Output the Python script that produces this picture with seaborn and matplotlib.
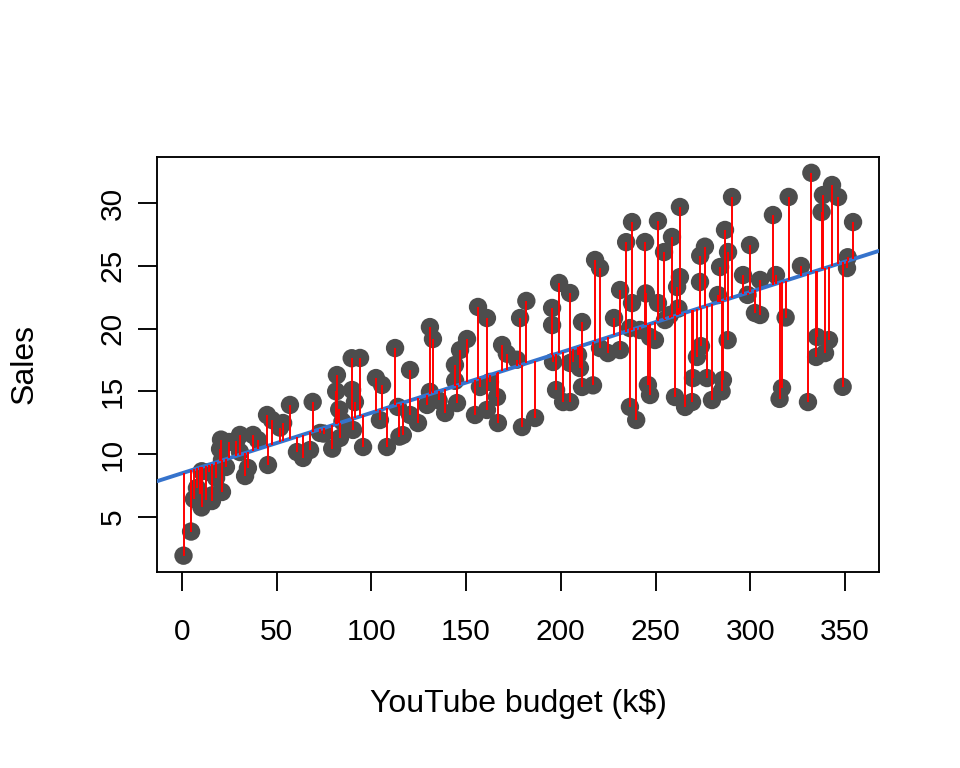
import numpy as np
import pandas as pd
import matplotlib
matplotlib.use("Agg")
import matplotlib.pyplot as plt
import seaborn as sns

# YouTube budget (k$) and sales
youtube = [0.8, 4.8, 6.3, 7.9, 9.5, 10.3, 10.4, 12.7, 15.8, 15.8,
           14.3, 18.0, 20.1, 20.6, 21.1, 21.1, 23.2, 24.8, 28.6, 30.6,
           30.6, 33.3, 34.8, 37.5, 40.1, 44.9, 47.5, 45.4, 51.7, 53.4,
           57.0, 60.7, 63.9, 67.6, 69.0, 72.9, 74.8, 79.3, 81.8, 81.4,
           83.0, 83.4, 84.7, 89.6, 94.0, 89.8, 91.3, 90.3, 95.6, 102.4,
           105.6, 104.5, 108.2, 112.5, 114.0, 114.8, 116.6, 120.4, 120.4, 124.6,
           130.9, 132.5, 130.9, 129.4, 135.5, 138.9, 144.1, 144.2, 145.2, 146.8,
           150.5, 154.7, 156.3, 157.3, 161.0, 161.0, 162.6, 166.3, 166.8, 169.0,
           171.5, 176.8, 178.5, 181.8, 179.5, 234.5, 244.5, 218.1, 220.7, 199.1,
           204.9, 195.4, 195.4, 211.2, 231.3, 237.6, 244.9, 228.1, 236.5, 241.8,
           220.7, 224.9, 231.3, 195.9, 204.9, 206.4, 210.1, 209.1, 197.5, 201.2,
           204.9, 211.2, 217.0, 186.4, 236.5, 239.8, 246.0, 247.1, 237.6, 251.3,
           258.7, 254.5, 262.9, 276.1, 273.6, 286.7, 288.3, 290.4, 299.9, 284.1,
           296.2, 262.9, 261.4, 273.5, 251.3, 262.1, 283.0, 298.6, 302.5, 255.0,
           257.6, 249.7, 274.0, 271.9, 288.1, 247.1, 260.3, 265.6, 269.3, 269.8,
           277.2, 279.8, 285.6, 284.9, 332.3, 343.2, 338.4, 346.4, 320.3, 312.0,
           337.7, 354.3, 351.5, 351.1, 326.8, 305.2, 313.6, 305.2, 318.7, 335.3,
           341.6, 334.8, 339.5, 316.8, 315.5, 330.5, 348.8]
sales = [1.92, 3.84, 6.43, 7.31, 6.83, 5.76, 8.64, 6.35, 6.27, 6.72,
         8.58, 8.10, 10.41, 11.16, 9.54, 6.99, 8.98, 10.97, 11.04, 11.53,
         10.17, 8.26, 8.90, 11.53, 11.13, 13.12, 12.72, 9.14, 12.12, 12.48,
         13.92, 10.17, 9.70, 10.33, 14.16, 11.69, 11.64, 10.44, 16.30, 15.00,
         13.56, 11.29, 12.60, 17.64, 17.66, 15.11, 14.15, 11.93, 10.57, 16.06,
         15.51, 12.72, 10.57, 18.45, 13.76, 11.40, 11.52, 16.70, 13.12, 12.48,
         20.12, 19.17, 14.95, 13.92, 14.28, 13.28, 17.10, 15.84, 14.07, 18.29,
         19.17, 13.12, 21.72, 15.35, 20.84, 13.52, 15.75, 14.55, 12.48, 18.69,
         18.00, 17.52, 20.84, 22.20, 12.16, 26.88, 26.89, 25.46, 24.82, 23.63,
         22.83, 21.64, 20.28, 20.52, 23.07, 22.03, 22.80, 20.84, 20.04, 19.89,
         18.45, 18.05, 18.29, 17.34, 17.26, 17.34, 16.86, 17.90, 15.11, 14.15,
         14.15, 15.35, 15.48, 12.88, 13.76, 12.72, 15.51, 19.33, 28.48, 28.56,
         27.29, 26.09, 29.68, 26.52, 25.80, 27.85, 26.09, 30.47, 26.65, 24.90,
         24.26, 24.10, 23.31, 23.71, 22.03, 21.60, 22.67, 22.68, 21.24, 20.68,
         21.08, 19.09, 18.60, 17.74, 19.08, 14.71, 14.55, 13.76, 14.15, 16.06,
         16.06, 14.31, 15.91, 15.00, 32.40, 31.43, 30.63, 30.47, 30.48, 29.04,
         29.28, 28.48, 25.68, 24.82, 24.98, 23.87, 24.26, 21.08, 20.88, 19.33,
         19.09, 17.74, 18.05, 15.27, 14.40, 14.15, 15.36]

df = pd.DataFrame({"youtube": youtube, "sales": sales})

# least squares fit, used for the residual segments
slope, intercept = np.polyfit(df["youtube"], df["sales"], 1)
df["fitted"] = intercept + slope * df["youtube"]

sns.set_style("ticks")
plt.rcParams["font.family"] = ["Liberation Sans", "DejaVu Sans"]

fig = plt.figure(figsize=(9.6, 7.68), dpi=100)
ax = fig.add_axes([157 / 960, (768 - 572) / 768, 722 / 960, 415 / 768])
ax.set_xlim(-13.2, 368.0)
ax.set_ylim(0.62, 33.66)

sns.scatterplot(data=df, x="youtube", y="sales", color="#4D4D4D", s=175,
                edgecolor="none", linewidth=0, ax=ax, zorder=2)
sns.regplot(data=df, x="youtube", y="sales", scatter=False, ci=None,
            truncate=False, color="#3673CC", line_kws={"lw": 2.8, "zorder": 3},
            ax=ax)
ax.vlines(df["youtube"], df["sales"], df["fitted"], colors="red", lw=1.4,
          zorder=4)

ax.set_xticks(np.arange(0, 351, 50))
ax.set_yticks(np.arange(5, 31, 5))
ax.tick_params(axis="both", labelsize=21.5, length=14, width=1.35,
               color="black", labelcolor="black")
ax.tick_params(axis="x", pad=19)
ax.tick_params(axis="y", pad=8)
for lab in ax.get_yticklabels():
    lab.set_rotation(90)
    lab.set_va("center")

for sp in ax.spines.values():
    sp.set_visible(True)
    sp.set_linewidth(1.35)
    sp.set_color("black")

ax.set_xlabel("YouTube budget (k$)", fontsize=23, color="black")
ax.set_ylabel("Sales", fontsize=23, color="black")
ax.xaxis.set_label_coords(0.5, -0.283)
ax.yaxis.set_label_coords(-0.163, 0.5)

fig.savefig("out.png", dpi=100, facecolor="white")
